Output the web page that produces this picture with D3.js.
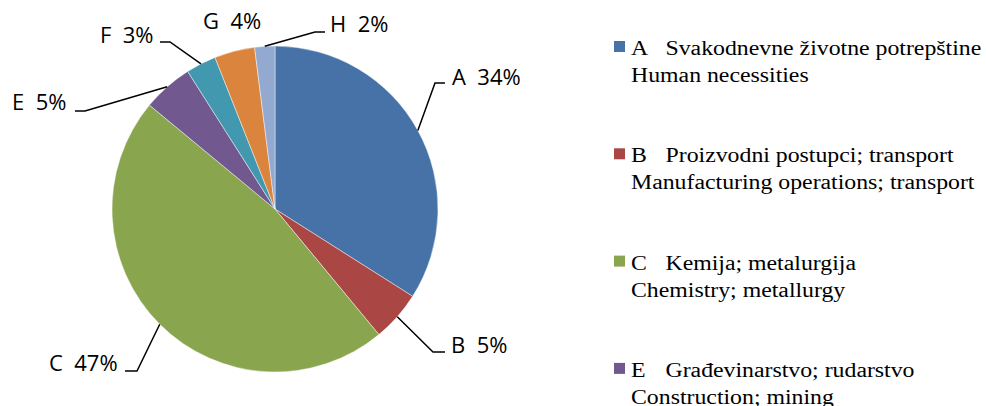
<!DOCTYPE html>
<html>
<head>
<meta charset="utf-8">
<script src="https://cdn.jsdelivr.net/npm/d3@7"></script>
<style>
  body { margin: 0; background: #fff; }
  text { white-space: pre; }
  .lbl { font-family: "Open Sans", sans-serif; font-size: 22px; }
  .leg { font-family: "Liberation Serif", "Times New Roman", serif; font-size: 20px; }
</style>
</head>
<body>
<svg id="chart" width="986" height="406"></svg>
<script>
var letters = ["A", "B", "C", "E", "F", "G", "H"];
var shares = [34, 5, 47, 5, 3, 4, 2];
// legend entries visible in the picture (the rest run below the frame)
var namesHr = ["Svakodnevne životne potrepštine", "Proizvodni postupci; transport", "Kemija; metalurgija",
    "Građevinarstvo; rudarstvo"];
var namesEn = ["Human necessities", "Manufacturing operations; transport", "Chemistry; metallurgy",
    "Construction; mining"];
var colors = ["#4672a8", "#aa4744", "#89a54e", "#71598f", "#4198af", "#db843d", "#93a9cf"];

// label placement: text anchor point and elbow of the leader line
var labelLayout = [
    { tx: 452, ty: 85, elbow: [435, 83], end: [445, 83] },
    { tx: 451, ty: 353, elbow: [433, 352], end: [445, 352] },
    { tx: 49, ty: 371, elbow: [137, 371], end: [125, 371] },
    { tx: 12, ty: 110, elbow: [85, 111], end: [75, 111] },
    { tx: 100, ty: 43, elbow: [170, 42], end: [160, 42] },
    { tx: 203, ty: 29, elbow: null, end: null },
    { tx: 330, ty: 32, elbow: [315, 32], end: [325, 32] }
];

var svg = d3.select("#chart");
var cx = 275, cy = 209, radius = 163;

var data = letters.map(function(l, i) {
    return { letter: l, value: shares[i], color: colors[i], i: i };
});

var pie = d3.pie().sort(null).value(function(d) { return d.value; });
var arc = d3.arc().innerRadius(0).outerRadius(radius);
var arcs = pie(data);

var g = svg.append("g").attr("transform", "translate(" + cx + "," + cy + ")");

g.selectAll("path")
    .data(arcs)
    .enter()
    .append("path")
    .attr("d", arc)
    .attr("fill", function(d) { return d.data.color; })
    .attr("stroke", "#ffffff")
    .attr("stroke-opacity", 0.6)
    .attr("stroke-width", 0.75);

// leader lines
arcs.forEach(function(a, i) {
    var lay = labelLayout[i];
    if (!lay.elbow) return;
    var mid = (a.startAngle + a.endAngle) / 2;
    var sx = cx + radius * Math.sin(mid);
    var sy = cy - radius * Math.cos(mid);
    svg.append("polyline")
        .attr("points", [[sx, sy], lay.elbow, lay.end].map(function(p) { return p.join(","); }).join(" "))
        .attr("fill", "none")
        .attr("stroke", "#000")
        .attr("stroke-width", 1.5);
});

svg.selectAll("text.lbl")
    .data(arcs)
    .enter()
    .append("text")
    .attr("class", "lbl")
    .attr("x", function(d, i) { return labelLayout[i].tx; })
    .attr("y", function(d, i) { return labelLayout[i].ty; })
    .attr("fill", "#000")
    .text(function(d) { return d.data.letter + "  " + d.data.value + "%"; });

// legend (text in the source is drawn a bit wide, so stretch it horizontally)
var legend = svg.append("g").attr("class", "legend");
var entry = legend.selectAll("g")
    .data(data.slice(0, namesHr.length))
    .enter()
    .append("g")
    .attr("transform", function(d, i) { return "translate(0," + (55 + i * 107.3) + ")"; });

entry.append("rect")
    .attr("x", 614)
    .attr("y", -14)
    .attr("width", 11)
    .attr("height", 11)
    .attr("fill", function(d) { return d.color; });

var txt = entry.append("g").attr("transform", "translate(631,0) scale(1.19,1)");
txt.append("text")
    .attr("class", "leg")
    .attr("x", 0)
    .attr("y", 0)
    .text(function(d) { return d.letter; });
txt.append("text")
    .attr("class", "leg")
    .attr("x", 29)
    .attr("y", 0)
    .text(function(d) { return namesHr[d.i]; });
txt.append("text")
    .attr("class", "leg")
    .attr("x", 0)
    .attr("y", 27)
    .text(function(d) { return namesEn[d.i]; });
</script>
</body>
</html>
